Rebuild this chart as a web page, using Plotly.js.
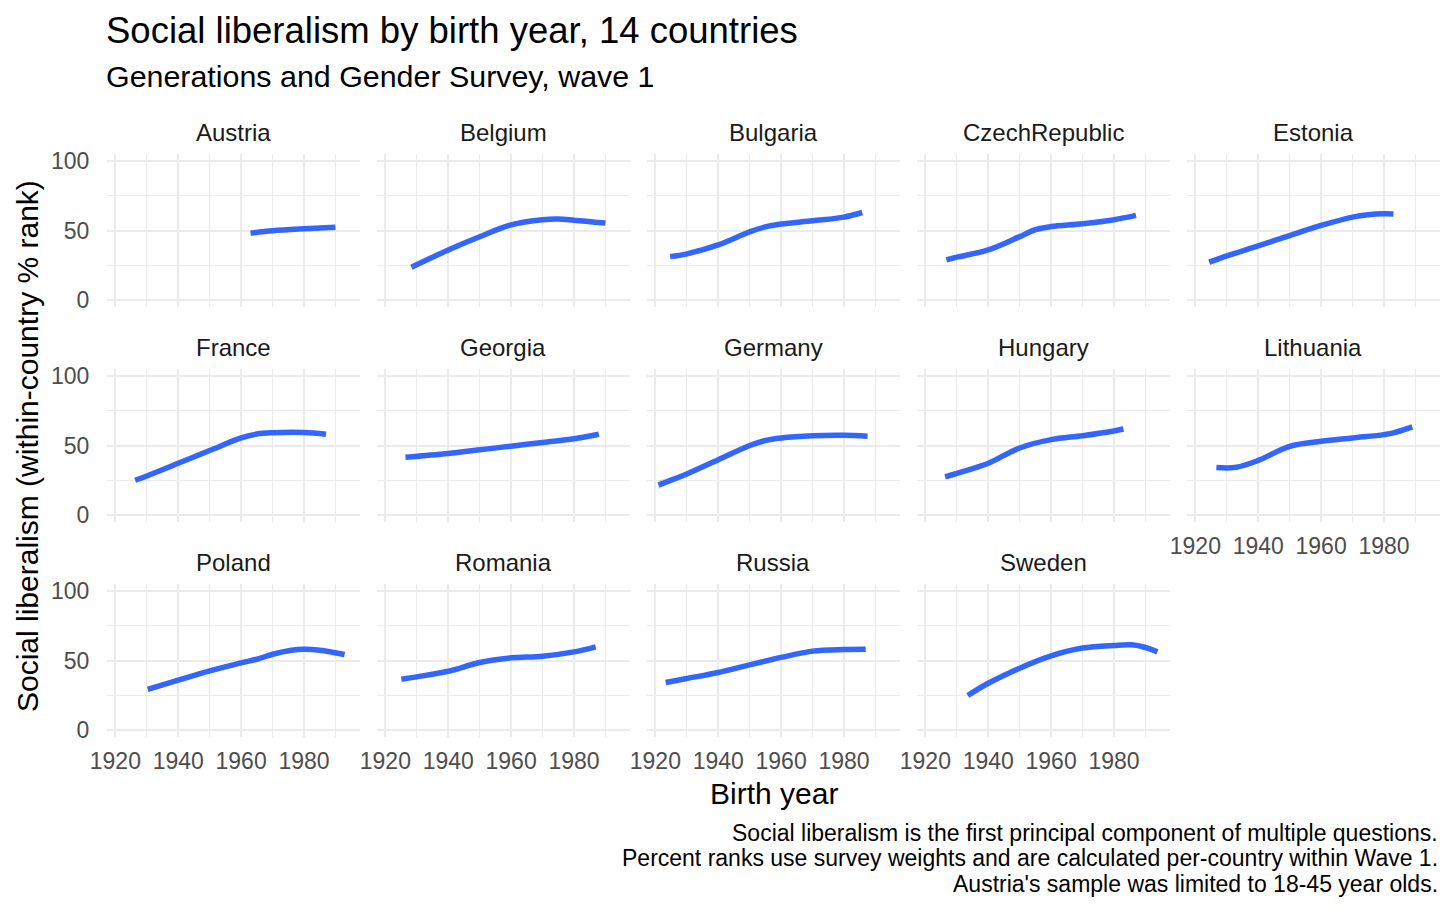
<!DOCTYPE html>
<html>
<head>
<meta charset="utf-8">
<script src="https://cdn.plot.ly/plotly-3.0.1.min.js"></script>
<style>html,body{margin:0;padding:0;background:#fff}</style>
</head>
<body>
<div id="chart" style="width:1456px;height:915px"></div>
<script>
// smoothed social liberalism (within-country % rank) by birth year
var countries = ['Austria', 'Belgium', 'Bulgaria', 'CzechRepublic', 'Estonia',
                 'France', 'Georgia', 'Germany', 'Hungary', 'Lithuania',
                 'Poland', 'Romania', 'Russia', 'Sweden'];

var austriaYears = [1963, 1970, 1980, 1990];
var austriaValues = [48.1, 49.8, 51.2, 52.3];
var belgiumYears = [1928.3, 1940, 1950, 1960, 1970, 1975, 1980, 1990];
var belgiumValues = [23.7, 36, 45.5, 54, 57.7, 58.2, 57.4, 55.3];
var bulgariaYears = [1924.7, 1930, 1940, 1950, 1955, 1960, 1970, 1980, 1985.8];
var bulgariaValues = [31.3, 33.3, 39.7, 49, 52.6, 54.6, 57, 59.6, 62.9];
var czechYears = [1926.7, 1930, 1940, 1950, 1955, 1960, 1970, 1980, 1987];
var czechValues = [29, 30.9, 36.1, 45.6, 50.6, 52.8, 54.8, 57.7, 60.8];
var estoniaYears = [1924.4, 1930, 1940, 1950, 1960, 1970, 1975, 1980, 1983];
var estoniaValues = [27.3, 31.8, 39, 46.4, 53.6, 59.6, 61.3, 62, 61.9];
var franceYears = [1926.3, 1930, 1940, 1950, 1960, 1965, 1970, 1980, 1987];
var franceValues = [25.1, 28.2, 37.3, 46.4, 55.4, 58.2, 59.1, 59.3, 58.1];
var georgiaYears = [1926.4, 1940, 1950, 1960, 1970, 1980, 1987.9];
var georgiaValues = [41.6, 44.3, 46.9, 49.5, 52.2, 54.8, 58.1];
var germanyYears = [1921, 1930, 1940, 1950, 1955, 1960, 1970, 1980, 1987.5];
var germanyValues = [21.7, 29.6, 39.8, 50, 53.6, 55.4, 57, 57.3, 56.6];
var hungaryYears = [1926.3, 1930, 1940, 1950, 1960, 1970, 1980, 1983];
var hungaryValues = [27.5, 30, 37.3, 48.2, 54.2, 57, 60.4, 61.8];
var lithuaniaYears = [1926.7, 1933, 1940, 1950, 1960, 1970, 1980, 1983, 1989];
var lithuaniaValues = [34.2, 34.4, 39.3, 49.4, 53, 55.4, 57.8, 59, 63.3];
var polandYears = [1930.3, 1940, 1950, 1960, 1965.7, 1970, 1976, 1980, 1985, 1992.9];
var polandValues = [29.4, 35.9, 42.6, 48.3, 51.4, 54.5, 57.4, 58.1, 57.4, 54.3];
var romaniaYears = [1925.1, 1930, 1940, 1950, 1960, 1970, 1980, 1986.9];
var romaniaValues = [36.6, 38.3, 42.3, 48.6, 51.9, 53.1, 56.2, 59.8];
var russiaYears = [1923.3, 1930, 1940, 1950, 1960, 1970, 1980, 1986.9];
var russiaValues = [34.2, 37.1, 41.4, 46.9, 52.2, 56.7, 57.9, 58.1];
var swedenYears = [1933.5, 1940, 1950, 1960, 1970, 1980, 1985.7, 1990, 1993.8];
var swedenValues = [24.9, 33.7, 44.5, 53.3, 58.9, 60.8, 61.2, 59.3, 56.2];

// the only confidence band wide enough to see
var germanyBandYears = [1921, 1925, 1930, 1935, 1940];
var germanyBandLower = [18.6, 23.4, 28.3, 33.9, 39.2];
var germanyBandUpper = [24.8, 27.7, 30.9, 35.8, 40.4];

var yearsList = [austriaYears, belgiumYears, bulgariaYears, czechYears, estoniaYears,
                 franceYears, georgiaYears, germanyYears, hungaryYears, lithuaniaYears,
                 polandYears, romaniaYears, russiaYears, swedenYears];
var valuesList = [austriaValues, belgiumValues, bulgariaValues, czechValues, estoniaValues,
                  franceValues, georgiaValues, germanyValues, hungaryValues, lithuaniaValues,
                  polandValues, romaniaValues, russiaValues, swedenValues];

var xTicks = [1920, 1940, 1960, 1980];
var xMinor = [1930, 1950, 1970, 1990];
var yTicks = [0, 50, 100];
var yMinor = [25, 75];

var W = 1456, H = 915;
function px(x) { return x / W; }
function py(y) { return 1 - y / H; }

var font = 'Liberation Sans, Arial, Helvetica, sans-serif';
var lineBlue = '#3366FF';
var gridGrey = '#ebebeb';

var data = [];
var layout = {
  width: W, height: H,
  margin: {l: 0, r: 0, t: 0, b: 0},
  paper_bgcolor: '#fff', plot_bgcolor: '#fff',
  showlegend: false,
  font: {family: font, color: '#1a1a1a'},
  annotations: []
};

var bottomPanels = [9, 10, 11, 12, 13];

countries.forEach(function (name, i) {
  var r = Math.floor(i / 5), c = i % 5;
  var n = i + 1;
  var xa = 'xaxis' + (n === 1 ? '' : n), ya = 'yaxis' + (n === 1 ? '' : n);
  var xid = 'x' + (n === 1 ? '' : n), yid = 'y' + (n === 1 ? '' : n);
  var left = 107 + 270 * c, right = 359.5 + 270 * c;
  var top = 153.7 + 215 * r, bottom = 307.3 + 215 * r;

  layout[xa] = {
    domain: [px(left), px(right)],
    anchor: yid,
    range: [1917.35, 1997.65],
    tickvals: xTicks,
    showticklabels: bottomPanels.indexOf(i) >= 0,
    ticks: 'outside', ticklen: 3, tickcolor: 'rgba(0,0,0,0)',
    tickfont: {family: font, size: 23, color: '#4d4d4d'},
    showgrid: true, gridcolor: gridGrey, gridwidth: 2,
    minor: {tickvals: xMinor, showgrid: true, gridcolor: gridGrey, gridwidth: 1},
    zeroline: false, showline: false, fixedrange: true
  };
  layout[ya] = {
    domain: [py(bottom), py(top)],
    anchor: xid,
    range: [-5, 105],
    tickvals: yTicks,
    showticklabels: c === 0,
    ticks: 'outside', ticklen: 12, tickcolor: 'rgba(0,0,0,0)',
    tickfont: {family: font, size: 23, color: '#4d4d4d'},
    showgrid: true, gridcolor: gridGrey, gridwidth: 2,
    minor: {tickvals: yMinor, showgrid: true, gridcolor: gridGrey, gridwidth: 1},
    zeroline: false, showline: false, fixedrange: true
  };

  if (name === 'Germany') {
    data.push({
      x: germanyBandYears.concat(germanyBandYears.slice().reverse()),
      y: germanyBandUpper.concat(germanyBandLower.slice().reverse()),
      xaxis: xid, yaxis: yid,
      type: 'scatter', mode: 'lines', fill: 'toself',
      fillcolor: 'rgba(153,153,153,0.4)', line: {width: 0, shape: 'spline'},
      hoverinfo: 'skip'
    });
  }

  data.push({
    x: yearsList[i], y: valuesList[i],
    xaxis: xid, yaxis: yid,
    type: 'scatter', mode: 'lines', name: name,
    line: {color: lineBlue, width: 5.5, shape: 'spline', smoothing: 1}
  });

  layout.annotations.push({
    text: name, xref: 'paper', yref: 'paper',
    x: px((left + right) / 2), y: py(top - 21),
    xanchor: 'center', yanchor: 'middle', showarrow: false,
    font: {family: font, size: 24, color: '#1a1a1a'}
  });
});

function label(text, x, y, size, xanchor, angle) {
  layout.annotations.push({
    text: text, xref: 'paper', yref: 'paper', x: px(x), y: py(y),
    xanchor: xanchor, yanchor: 'middle', showarrow: false, textangle: angle || 0,
    font: {family: font, size: size, color: '#000'}
  });
}

label('Social liberalism by birth year, 14 countries', 104, 30, 36.5, 'left');
label('Generations and Gender Survey, wave 1', 104, 76, 30.4, 'left');
label('Birth year', 774, 793, 30, 'center');
label('Social liberalism (within-country % rank)', 27, 446, 30, 'center', -90);
label('Social liberalism is the first principal component of multiple questions.', 1440, 832.5, 23, 'right');
label('Percent ranks use survey weights and are calculated per-country within Wave 1.', 1440, 858, 23, 'right');
label("Austria's sample was limited to 18-45 year olds.", 1440, 883.5, 23, 'right');

Plotly.newPlot('chart', data, layout, {staticPlot: true, displayModeBar: false});
</script>
</body>
</html>
